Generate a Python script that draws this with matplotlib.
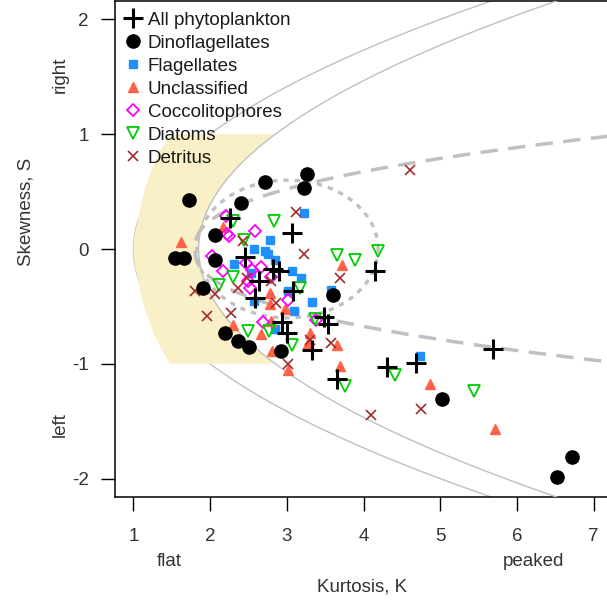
import numpy as np
import matplotlib.pyplot as plt
from matplotlib.lines import Line2D

plt.rcParams['font.family'] = ['Liberation Sans', 'DejaVu Sans']
plt.rcParams['axes.unicode_minus'] = False

# ---- data (kurtosis K, skewness S) ----
all_k = [2.26, 3.07, 2.46, 2.82, 2.90, 2.64, 2.58, 3.08, 4.15, 3.48, 3.54,
         2.94, 3.00, 3.33, 3.65, 4.30, 4.69, 5.69]
all_s = [0.27, 0.14, -0.07, -0.17, -0.19, -0.28, -0.43, -0.37, -0.19, -0.59,
         -0.65, -0.64, -0.73, -0.88, -1.13, -1.03, -0.99, -0.87]

dino_k = [2.72, 1.73, 2.40, 3.26, 3.23, 2.07, 1.54, 1.66, 2.06, 1.91, 2.19,
          2.37, 2.51, 2.92, 3.60, 5.02, 6.52, 6.72]
dino_s = [0.58, 0.43, 0.40, 0.65, 0.53, 0.12, -0.08, -0.08, -0.10, -0.34,
          -0.73, -0.80, -0.85, -0.89, -0.40, -1.31, -1.99, -1.81]

flag_k = [3.22, 2.78, 2.57, 2.72, 2.76, 2.31, 2.85, 3.07, 3.18, 2.53, 3.02,
          3.33, 3.09, 3.58, 2.85, 2.57, 4.74]
flag_s = [0.31, 0.08, 0.00, -0.02, -0.04, -0.13, -0.10, -0.19, -0.25, -0.21,
          -0.37, -0.46, -0.54, -0.36, -0.70, -0.45, -0.93]

uncl_k = [1.62, 2.17, 2.78, 2.78, 2.30, 2.67, 2.80, 2.81, 2.97, 3.30, 3.28,
          3.72, 3.65, 3.69, 3.02, 4.87, 5.72]
uncl_s = [0.06, 0.19, -0.38, -0.48, -0.66, -0.74, -0.63, -0.89, -0.52, -0.73,
          -0.82, -0.14, -0.84, -1.02, -1.05, -1.18, -1.57]

cocco_k = [2.21, 2.22, 2.24, 2.59, 2.02, 2.17, 2.54, 2.67, 2.50, 2.52, 2.80,
           2.69, 3.01, 3.38, 2.47]
cocco_s = [0.29, 0.13, 0.11, 0.16, -0.06, -0.19, -0.18, -0.16, -0.28, -0.34,
           -0.24, -0.64, -0.44, -0.62, -0.12]

diat_k = [2.30, 2.83, 2.44, 2.30, 2.11, 3.17, 3.65, 3.89, 4.19, 2.50, 2.77,
          3.37, 3.07, 3.76, 4.41, 5.44]
diat_s = [0.24, 0.24, 0.08, -0.24, -0.31, -0.34, -0.05, -0.10, -0.02, -0.71,
          -0.71, -0.61, -0.84, -1.19, -1.10, -1.24]

detr_k = [4.61, 3.12, 3.23, 2.43, 3.69, 1.80, 2.07, 2.37, 2.48, 2.79, 1.96,
          2.27, 2.86, 3.30, 3.57, 3.02, 4.10, 4.75]
detr_s = [0.69, 0.32, -0.04, 0.07, -0.25, -0.37, -0.39, -0.34, -0.25, -0.28,
          -0.58, -0.56, -0.47, -0.79, -0.82, -1.00, -1.45, -1.39]

labels = ['All phytoplankton', 'Dinoflagellates', 'Flagellates', 'Unclassified',
          'Coccolitophores', 'Diatoms', 'Detritus']

W, H = 607, 604
fig = plt.figure(figsize=(W / 100, H / 100), dpi=100)
ax = fig.add_axes([115 / W, 107 / H, 497 / W, 496 / H])
ax.set_xlim(0.76, 7.24)
ax.set_ylim(-2.16, 2.16)

grey = '#c0c0c0'
s = np.linspace(-2.3, 2.3, 400)

# bounds K = S^2 + 1 and K = S^2 + 1.85
ax.plot(s ** 2 + 1, s, color=grey, lw=1.0, zorder=1)
ax.plot(s ** 2 + 1.85, s, color=grey, lw=1.0, zorder=3)

# shaded band
sy = np.linspace(-1, 1, 200)
left = np.minimum(3.80 - 2.764 * np.sqrt(1 - (sy / 1.84) ** 2), sy ** 2 + 1)
right = sy ** 2 + 1.85
ax.fill(np.r_[left, right[::-1]], np.r_[sy, sy[::-1]],
        color='#faf0c8', lw=0, zorder=2)

# long dashed curve
kk = np.linspace(1.8, 7.5, 300)
ss = 0.484 * (kk - 1.8) ** 0.42
ax.plot(np.r_[kk[::-1], kk], np.r_[ss[::-1], -ss], color=grey, lw=2.5,
        dashes=(5, 3), zorder=3)

# dotted closed curve
t = np.linspace(0, 2 * np.pi, 300)
ax.plot(3.01 + 1.18 * np.cos(t), 0.6 * np.sin(t), color=grey, lw=2.4,
        dashes=(1.6, 1.8), zorder=3)

mk = dict(ls='none', zorder=5)
ax.plot(flag_k, flag_s, marker='s', ms=6, mfc='#1e90ff', mec='#1e90ff', **mk)
ax.plot(uncl_k, uncl_s, marker='^', ms=7, mfc='#ff6347', mec='#ff6347', **mk)
ax.plot(cocco_k, cocco_s, marker='D', ms=6, mfc='none', mec='#ff00ff', mew=1.3, **mk)
ax.plot(diat_k, diat_s, marker='v', ms=8, mfc='none', mec='#00cd00', mew=1.3, **mk)
ax.plot(detr_k, detr_s, marker='x', ms=6.5, color='#a52a2a', mew=1.2, **mk)
ax.plot(dino_k, dino_s, marker='o', ms=9.5, color='black', **mk)
ax.plot(all_k, all_s, marker='+', ms=14, color='black', mew=2.2, **mk)

handles = [
    Line2D([], [], ls='none', marker='+', ms=14, color='black', mew=2.2),
    Line2D([], [], ls='none', marker='o', ms=9.5, color='black'),
    Line2D([], [], ls='none', marker='s', ms=6, color='#1e90ff'),
    Line2D([], [], ls='none', marker='^', ms=7, color='#ff6347'),
    Line2D([], [], ls='none', marker='D', ms=6, mfc='none', mec='#ff00ff', mew=1.3),
    Line2D([], [], ls='none', marker='v', ms=8, mfc='none', mec='#00cd00', mew=1.3),
    Line2D([], [], ls='none', marker='x', ms=6.5, color='#a52a2a', mew=1.2),
]
ax.legend(handles, labels, loc='upper left', bbox_to_anchor=(0.0173, 0.978),
          frameon=False, fontsize=13.5, handlelength=1.0, handletextpad=0.3,
          borderpad=0, borderaxespad=0, labelspacing=0.31, labelcolor='#1a1a1a')

ax.set_xticks(range(1, 8))
ax.set_yticks([-2, -1, 0, 1, 2])
ax.tick_params(direction='out', length=10, width=1, labelsize=13.5,
               labelcolor='#333333')
ax.tick_params(axis='x', pad=12)
ax.tick_params(axis='y', pad=9)
for sp in ax.spines.values():
    sp.set_linewidth(1.1)

tc = '#333333'
fig.text(169 / W, 1 - 561 / H, 'flat', ha='center', va='center', fontsize=13.5, color=tc)
fig.text(533 / W, 1 - 562 / H, 'peaked', ha='center', va='center', fontsize=13.5, color=tc)
fig.text(362 / W, 1 - 587 / H, 'Kurtosis, K', ha='center', va='center', fontsize=13.5, color=tc)
fig.text(26 / W, 1 - 212 / H, 'Skewness, S', ha='center', va='center', rotation=90,
         fontsize=13.5, color=tc)
fig.text(60 / W, 1 - 75 / H, 'right', ha='center', va='center', rotation=90,
         fontsize=13.5, color=tc)
fig.text(60 / W, 1 - 425 / H, 'left', ha='center', va='center', rotation=90,
         fontsize=13.5, color=tc)

fig.savefig('out.png', dpi=100)
